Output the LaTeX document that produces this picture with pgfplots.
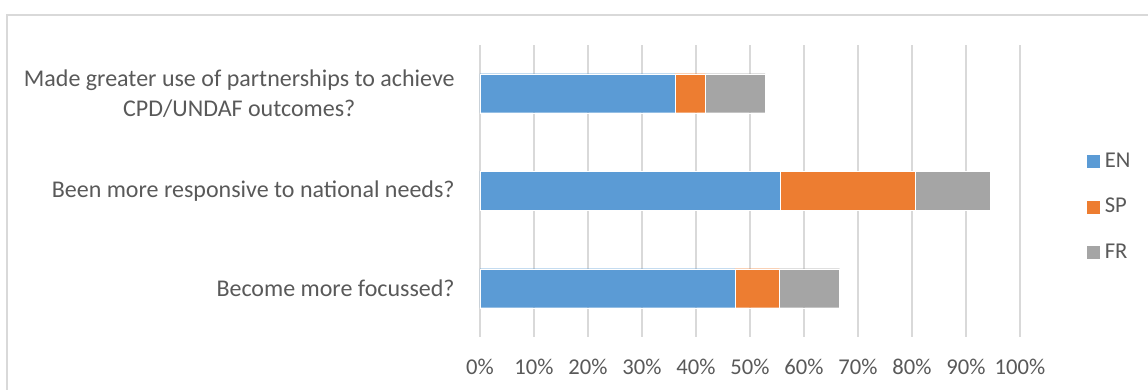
\documentclass[border=0pt]{standalone}
\usepackage{fontspec}
\setmainfont{Carlito}
\usepackage{pgfplots}
\pgfplotsset{compat=1.18}
\definecolor{cEN}{HTML}{5B9BD5}
\definecolor{cSP}{HTML}{ED7D31}
\definecolor{cFR}{HTML}{A5A5A5}
\definecolor{txt}{HTML}{595959}
\definecolor{gridc}{HTML}{D9D9D9}
\begin{document}
\begin{tikzpicture}
\useasboundingbox (0,0) rectangle (574pt,195pt);
\clip (0,0) rectangle (574pt,195pt);
\draw[gridc, line width=0.6pt] (3.5pt,-10pt) -- (3.5pt,187.5pt) -- (600pt,187.5pt);
\begin{axis}[
  at={(240pt,26.5pt)}, anchor=south west,
  scale only axis, width=270pt, height=146.25pt,
  xbar stacked, bar width=19.5pt,
  xmin=0, xmax=100, ymin=-0.5, ymax=2.5,
  xtick={0,10,...,100},
  xticklabels={0\%,10\%,20\%,30\%,40\%,50\%,60\%,70\%,80\%,90\%,100\%},
  ytick={0,1,2},
  yticklabels={{Become more focussed?},{Been more responsive to national needs?},{Made greater use of partnerships to achieve\\CPD/UNDAF outcomes?}},
  axis line style={draw=none},
  major tick length=0pt,
  xmajorgrids=true,
  major grid style={gridc, line width=0.6pt},
  tick label style={text=txt},
  xticklabel style={font=\fontsize{11.3}{15}\selectfont, anchor=base, yshift=-19pt, inner sep=0pt},
  yticklabel style={font=\fontsize{12}{15}\selectfont, align=center, anchor=east, inner sep=0pt, xshift=-12.5pt},
  legend style={at={(1,0.445)}, anchor=west, xshift=33pt, draw=none, fill=none,
    font=\fontsize{11.3}{13}\selectfont, text=txt, row sep=10pt, inner sep=0pt},
  legend cell align=left,
  legend image code/.code={\fill[#1] (0pt,-3.5pt) rectangle (7pt,3.5pt);},
]
\addplot[fill=cEN, draw=white, line width=0.2pt] coordinates {(47.2,0) (55.6,1) (36.1,2)};
\addplot[fill=cSP, draw=white, line width=0.2pt] coordinates {(8.3,0) (25.0,1) (5.6,2)};
\addplot[fill=cFR, draw=white, line width=0.2pt] coordinates {(11.1,0) (13.9,1) (11.1,2)};
\legend{EN,SP,FR}
\end{axis}
\end{tikzpicture}
\end{document}
